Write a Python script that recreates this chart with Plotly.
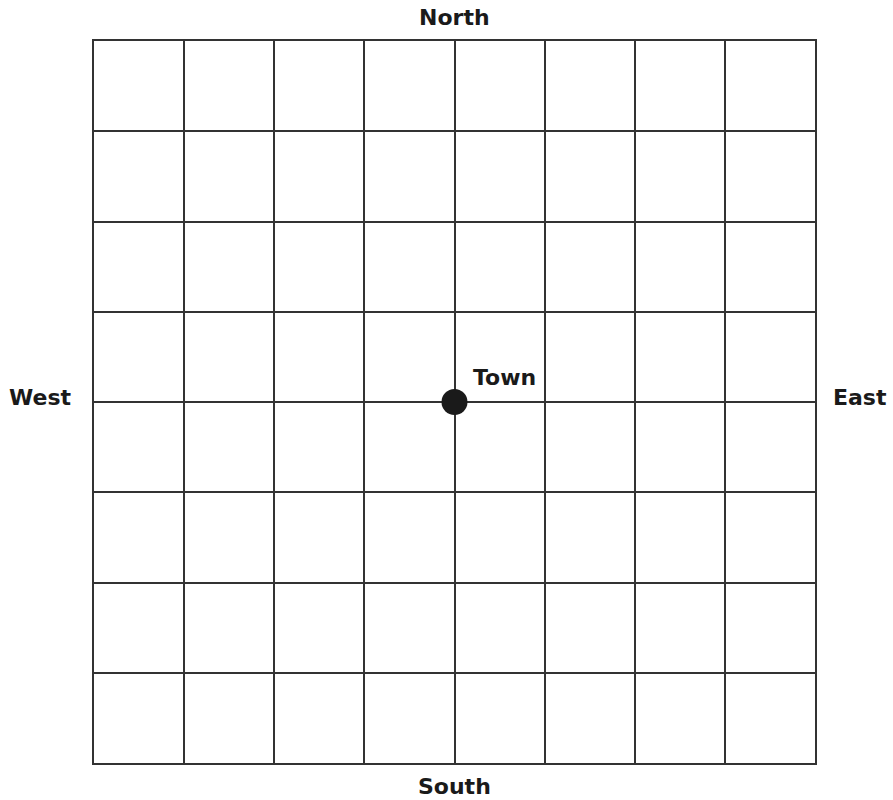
import plotly.graph_objects as go

# Data
town_x = [0]
town_y = [0]
town_names = ["Town"]
grid_ticks = [-4, -3, -2, -1, 0, 1, 2, 3, 4]
directions = ["North", "South", "West", "East"]

FONT = "DejaVu Sans"
LINE = "#333333"
FS = 22

fig = go.Figure()
fig.add_trace(go.Scatter(
    x=town_x, y=town_y, mode="markers",
    marker=dict(size=26, color="#1a1a1a"),
    hoverinfo="text", text=town_names, showlegend=False,
))

for name, tx, ty in zip(town_names, town_x, town_y):
    fig.add_annotation(x=tx, y=ty, text=f"<b>{name}</b>", showarrow=False,
                       xanchor="left", yanchor="middle", xshift=16, yshift=25,
                       font=dict(family=FONT, size=FS, color="#1a1a1a"))

ann_pos = {
    "North": dict(x=0.5, y=1.0332, xref="paper", yref="paper"),
    "South": dict(x=0.5, y=-0.0332, xref="paper", yref="paper"),
    "West": dict(x=-0.0749, y=0.045, xref="paper", yref="y"),
    "East": dict(x=1.0624, y=0.045, xref="paper", yref="y"),
}
for d in directions:
    p = ann_pos[d]
    fig.add_annotation(text=f"<b>{d}</b>", showarrow=False,
                       xanchor="center", yanchor="middle",
                       font=dict(family=FONT, size=FS, color="#1a1a1a"), **p)

axis_common = dict(
    range=[grid_ticks[0], grid_ticks[-1]], tickvals=grid_ticks, showticklabels=False,
    showgrid=True, gridcolor=LINE, gridwidth=1.6,
    zeroline=True, zerolinecolor=LINE, zerolinewidth=1.6,
    showline=True, mirror=True, linecolor=LINE, linewidth=1.6,
    ticks="", fixedrange=True,
)
fig.update_xaxes(**axis_common)
fig.update_yaxes(**axis_common)

fig.update_layout(
    width=893, height=800,
    margin=dict(l=94, r=78, t=41, b=37),
    plot_bgcolor="white", paper_bgcolor="white",
    showlegend=False,
)

fig.write_html("out.html", config={"displayModeBar": False},
               post_script="document.body.style.margin='0';")
